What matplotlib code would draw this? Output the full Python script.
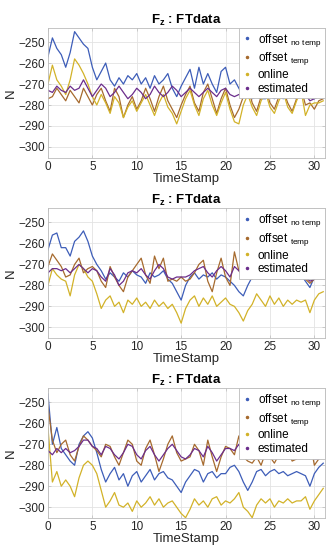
import numpy as np
import matplotlib
matplotlib.use('Agg')
import matplotlib.pyplot as plt
from matplotlib.lines import Line2D

plt.rcParams['font.family'] = ['Liberation Sans', 'DejaVu Sans']
plt.rcParams['mathtext.fontset'] = 'custom'
plt.rcParams['mathtext.rm'] = 'Liberation Sans'
plt.rcParams['mathtext.bf'] = 'Liberation Sans:bold'

# Tiempo (s)
t = np.arange(0, 31.01, 0.5)

# Panel 1
p1_nt = [-257, -248, -253, -256, -262, -255, -245, -248, -251, -253, -262, -268, -264, -260, -268, -271,
         -267, -270, -266, -268, -265, -270, -267, -272, -266, -270, -268, -265, -272, -276, -271, -267,
         -263, -272, -262, -270, -265, -270, -274, -264, -262, -270, -268, -272, -276, -276, -277, -276,
         -277, -277, -276, -277, -276, -277, -276, -276, -277, -276, -275, -276, -277, -276, -276]
p1_tmp = [-277, -276, -272, -275, -278, -273, -276, -279, -272, -276, -280, -275, -272, -278, -283, -272,
          -276, -286, -280, -276, -282, -278, -272, -277, -283, -276, -271, -278, -282, -286, -280, -275,
          -271, -279, -283, -274, -270, -277, -284, -277, -272, -280, -286, -282, -276, -271, -279, -283,
          -276, -272, -279, -282, -276, -273, -279, -283, -277, -272, -280, -279, -282, -278, -277]
p1_on = [-270, -261, -268, -271, -275, -268, -258, -261, -265, -270, -276, -280, -275, -279, -284, -276,
         -279, -286, -281, -278, -283, -279, -275, -280, -285, -279, -275, -281, -284, -289, -283, -277,
         -273, -280, -285, -277, -273, -280, -285, -279, -274, -282, -288, -289, -280, -275, -281, -285,
         -278, -274, -281, -284, -278, -274, -281, -284, -278, -273, -285, -280, -279, -279, -278]
p1_est = [-273, -274, -271, -273, -274, -271, -273, -272, -268, -272, -276, -273, -270, -272, -276, -274,
          -271, -274, -277, -275, -272, -274, -277, -275, -271, -274, -276, -274, -271, -273, -276, -274,
          -272, -274, -276, -274, -272, -274, -276, -273, -272, -275, -276, -275, -275, -274, -276, -275,
          -275, -275, -275, -275, -275, -275, -275, -275, -275, -275, -275, -278, -277, -276, -275]

# Panel 2
p2_nt = [-263, -256, -255, -262, -262, -266, -259, -257, -254, -259, -266, -270, -273, -277, -274, -276,
         -278, -274, -276, -273, -275, -276, -279, -274, -276, -275, -273, -277, -279, -283, -287, -280,
         -276, -274, -277, -275, -276, -274, -277, -275, -276, -278, -280, -283, -285, -280, -276, -273,
         -274, -275, -273, -276, -274, -275, -274, -276, -275, -275, -278, -281, -276, -275, -275]
p2_tmp = [-271, -265, -268, -271, -276, -275, -270, -267, -274, -272, -271, -273, -278, -281, -271, -276,
          -280, -283, -276, -273, -270, -267, -275, -279, -266, -272, -267, -278, -277, -278, -276, -278,
          -277, -274, -270, -268, -278, -283, -274, -267, -276, -280, -264, -273, -276, -276, -277, -275,
          -273, -276, -276, -275, -276, -275, -276, -275, -276, -276, -277, -279, -277, -275, -274]
p2_on = [-280, -272, -275, -277, -278, -285, -275, -270, -272, -276, -278, -284, -291, -287, -285, -290,
         -288, -293, -287, -289, -286, -290, -288, -291, -287, -290, -288, -291, -289, -293, -298, -291,
         -287, -285, -290, -286, -289, -285, -290, -288, -286, -289, -290, -293, -297, -292, -289, -284,
         -287, -290, -285, -289, -286, -290, -287, -289, -287, -288, -287, -293, -287, -284, -283]
p2_est = [-274, -272, -272, -273, -272, -274, -272, -270, -272, -274, -272, -273, -276, -278, -272, -275,
          -280, -278, -274, -273, -274, -272, -275, -277, -273, -270, -272, -276, -277, -276, -276, -276,
          -275, -273, -272, -271, -274, -276, -273, -271, -273, -276, -271, -273, -275, -275, -276, -275,
          -274, -275, -275, -275, -275, -275, -275, -275, -275, -275, -276, -278, -277, -275, -275]

# Panel 3
p3_nt = [-246, -270, -262, -272, -275, -278, -280, -270, -266, -264, -267, -274, -282, -288, -284, -281,
         -287, -284, -290, -285, -283, -288, -285, -282, -287, -284, -283, -286, -287, -290, -293, -288,
         -285, -282, -283, -288, -284, -283, -286, -284, -284, -281, -280, -283, -288, -292, -288, -283,
         -282, -285, -283, -282, -284, -283, -285, -284, -283, -284, -285, -290, -284, -281, -279]
p3_tmp = [-252, -268, -274, -270, -268, -275, -278, -271, -266, -268, -271, -273, -276, -270, -271, -276,
          -280, -274, -268, -270, -278, -280, -272, -268, -275, -283, -277, -270, -266, -274, -278, -277,
          -276, -270, -273, -280, -268, -276, -283, -276, -271, -272, -275, -266, -276, -278, -279, -276,
          -280, -274, -276, -279, -275, -276, -273, -278, -277, -274, -276, -268, -280, -277, -276]
p3_on = [-262, -288, -283, -290, -287, -290, -295, -286, -280, -278, -280, -284, -292, -300, -297, -293,
         -299, -300, -298, -302, -297, -300, -298, -295, -299, -296, -300, -298, -297, -300, -303, -305,
         -301, -296, -299, -297, -300, -296, -295, -299, -297, -298, -296, -293, -300, -302, -305, -299,
         -296, -298, -296, -300, -297, -298, -296, -298, -297, -297, -295, -301, -297, -294, -291]
p3_est = [-273, -275, -272, -274, -272, -274, -273, -271, -268, -268, -271, -272, -275, -271, -272, -275,
          -277, -274, -270, -271, -275, -277, -273, -271, -275, -278, -275, -272, -270, -273, -276, -277,
          -275, -272, -273, -276, -271, -274, -278, -275, -272, -272, -273, -270, -275, -276, -277, -276,
          -277, -275, -275, -276, -275, -275, -275, -276, -276, -275, -274, -272, -277, -277, -276]

paneles = [(p1_nt, p1_tmp, p1_on, p1_est),
           (p2_nt, p2_tmp, p2_on, p2_est),
           (p3_nt, p3_tmp, p3_on, p3_est)]

nombres = ['offset $_{\\mathrm{no\\ temp}}$', 'offset $_{\\mathrm{temp}}$', 'online', 'estimated']
colores = ['#3D5DB8', '#A66A2E', '#D2B228', '#6B2D8C']

fig = plt.figure(figsize=(3.33, 5.5), dpi=100)
bottoms = [0.713, 0.385, 0.058]
for k, datos in enumerate(paneles):
    ax = fig.add_axes([0.144, bottoms[k], 0.832, 0.236])
    for serie, c in zip(datos, colores):
        ax.plot(t, serie, color=c, lw=0.9)
    ax.set_xlim(0, 31.2)
    ax.set_ylim(-305.2, -243.3)
    ax.set_xticks(range(0, 31, 5))
    ax.set_yticks(range(-300, -249, 10))
    ax.grid(True, color='#e3e3e3', lw=0.6)
    ax.set_axisbelow(True)
    for s in ax.spines.values():
        s.set_color('#bcbcbc')
        s.set_linewidth(0.6)
    ax.tick_params(direction='in', length=2, width=0.5, color='#bcbcbc',
                   labelcolor='#262626', labelsize=8.5, top=True, right=True, pad=2)
    ax.set_xlabel('TimeStamp', fontsize=9.5, color='#262626', labelpad=0)
    ax.set_ylabel('N', fontsize=9.5, color='#262626', labelpad=1)
    ax.set_title('$\\mathbf{F_z}$ : FTdata', fontsize=9.5, fontweight='bold', pad=3)
    handles = [Line2D([], [], ls='none', marker='.', markersize=3, color=c) for c in colores]
    leg = ax.legend(handles, nombres, loc='upper right', fontsize=8.5, borderaxespad=0,
                    handlelength=0.8, handletextpad=0.5, labelspacing=0.15,
                    borderpad=0.3, fancybox=False, framealpha=1)
    leg.get_frame().set_edgecolor('#bcbcbc')
    leg.get_frame().set_linewidth(0.6)

fig.savefig('out.png', dpi=100)
